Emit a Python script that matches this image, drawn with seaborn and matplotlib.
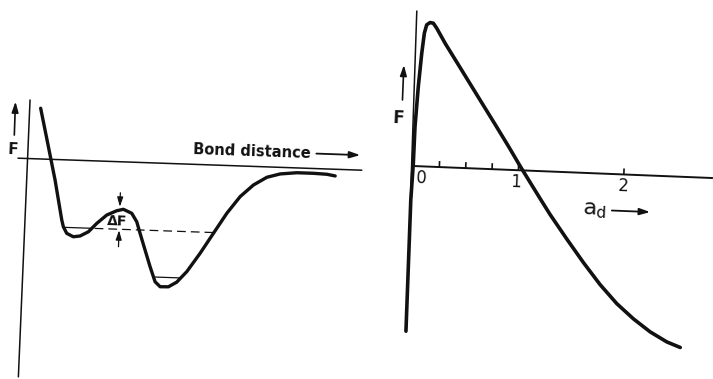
import matplotlib
matplotlib.use("Agg")
import matplotlib.pyplot as plt
from matplotlib.transforms import Affine2D
import pandas as pd
import seaborn as sns

# ---------------- left panel: free energy along the bond distance ----------------
bond_r = [0.119, 0.194, 0.288, 0.369, 0.387, 0.423, 0.490, 0.557, 0.639, 0.720,
          0.817, 0.915, 0.981, 1.066, 1.119, 1.156, 1.212, 1.268, 1.323, 1.375,
          1.458, 1.540, 1.637, 1.763, 1.889, 2.016, 2.143, 2.272, 2.404, 2.535,
          2.702, 2.868, 3.003, 3.086]
bond_F = [0.507, 0.192, -0.205, -0.603, -0.669, -0.734, -0.766, -0.756, -0.711, -0.624,
          -0.537, -0.491, -0.474, -0.511, -0.594, -0.708, -0.874, -1.039, -1.187, -1.235,
          -1.233, -1.183, -1.074, -0.887, -0.683, -0.478, -0.307, -0.186, -0.104, -0.066,
          -0.048, -0.048, -0.053, -0.067]

well1_level = -0.675
well1_solid = [0.39, 0.67]
well1_dashed = [0.70, 1.91]
well2_level = -1.14
well2_solid = [1.31, 1.58]

barrier_r = 0.945
barrier_top_arrow = [-0.31, -0.45]      # tail, tip
barrier_bottom_arrow = [-0.85, -0.685]  # tail, tip

bond_haxis_r = [-0.09, 3.35]
bond_vaxis_r = [-0.01, 0.01]
bond_vaxis_F = [-2.185, 0.586]

# ---------------- right panel: F against a_d ----------------
ad_x = [-0.004, -0.008, 0.002, 0.004, 0.020, 0.040, 0.057, 0.076, 0.107, 0.138,
        0.172, 0.257, 0.425, 0.593, 0.761, 0.896, 1.014, 1.115, 1.216, 1.317,
        1.485, 1.651, 1.817, 1.983, 2.146, 2.309, 2.471, 2.600]
ad_F = [-1.653, -0.341, 0.027, 0.394, 0.795, 1.130, 1.332, 1.416, 1.440, 1.435,
        1.387, 1.240, 0.977, 0.713, 0.450, 0.236, 0.043, -0.116, -0.274, -0.430,
        -0.669, -0.897, -1.110, -1.294, -1.439, -1.562, -1.656, -1.706]

ad_ticks = [0.25, 0.5, 0.75, 1.0, 2.0]
ad_tick_labels = ["0", "1", "2"]
ad_tick_label_x = [0.085, 0.98, 2.0]
ad_haxis_x = [0.0, 2.84]
ad_vaxis_x = [-0.003, -0.023]
ad_vaxis_F = [-1.66, 1.55]

# ---------------- figure ----------------
W, H, DPI = 713, 379, 100
sns.set_style("white")
plt.rcParams["font.family"] = ["DejaVu Sans"]
plt.rcParams["mathtext.fontset"] = "dejavusans"

fig = plt.figure(figsize=(W / DPI, H / DPI), dpi=DPI)
fig.patch.set_facecolor("white")
INK = "#111111"


def make_panel(origin, sx, sy, tilt):
    """Full-figure axes whose data origin sits at pixel `origin`, drawn with a slight tilt."""
    ox, oy = origin
    ax = fig.add_axes([0, 0, 1, 1])
    ax.set_autoscale_on(False)
    lims = ((-ox / sx, (W - ox) / sx), (-(H - oy) / sy, oy / sy))
    ax.set_xlim(*lims[0])
    ax.set_ylim(*lims[1])
    ax.axis("off")
    ax.patch.set_alpha(0)
    tr = ax.transData + Affine2D().rotate_deg_around(ox, H - oy, -tilt)
    return ax, tr, lims


def arrow(ax, tr, x0, y0, x1, y1, lw=1.1, scale=9):
    ax.annotate("", xy=(x1, y1), xytext=(x0, y0), xycoords=tr, textcoords=tr,
                arrowprops=dict(arrowstyle="-|>,head_length=0.7,head_width=0.22",
                                lw=lw, color=INK, shrinkA=0, shrinkB=0,
                                mutation_scale=scale))


# ----- left panel -----
TILT_L = 2.0
axL, trL, limsL = make_panel((27, 158.5), 100, 100, TILT_L)

axL.plot(bond_haxis_r, [0, 0], color=INK, lw=1.1, transform=trL)
axL.plot(bond_vaxis_r, bond_vaxis_F, color=INK, lw=1.1, transform=trL)

left_df = pd.DataFrame({"r": bond_r, "F": bond_F})
sns.lineplot(data=left_df, x="r", y="F", sort=False, estimator=None, ax=axL,
             color=INK, lw=2.4, transform=trL, solid_capstyle="round",
             solid_joinstyle="round")

axL.plot(well1_solid, [well1_level] * 2, color=INK, lw=0.9, transform=trL)
axL.plot(well1_dashed, [well1_level] * 2, color=INK, lw=0.9,
         dashes=(7, 4), transform=trL)
axL.plot(well2_solid, [well2_level] * 2, color=INK, lw=0.9, transform=trL)

arrow(axL, trL, barrier_r, barrier_top_arrow[0], barrier_r, barrier_top_arrow[1], lw=0.9, scale=8)
arrow(axL, trL, barrier_r, barrier_bottom_arrow[0], barrier_r, barrier_bottom_arrow[1], lw=0.9, scale=8)
axL.text(0.925, -0.60, "\u0394F", transform=trL, fontsize=10, fontweight="bold",
         ha="center", va="center", color=INK, rotation=-TILT_L, rotation_mode="anchor")

axL.text(-0.143, 0.085, "F", transform=trL, fontsize=11, fontweight="bold",
         ha="center", va="center", color=INK, rotation=-TILT_L, rotation_mode="anchor")
arrow(axL, trL, -0.135, 0.23, -0.135, 0.565, lw=1.2, scale=9)

axL.text(2.248, 0.144, "Bond distance", transform=trL, fontsize=10.5, fontweight="bold",
         ha="center", va="center", color=INK, rotation=-TILT_L, rotation_mode="anchor")
arrow(axL, trL, 2.89, 0.15, 3.33, 0.15, lw=1.3, scale=9)

axL.set_xlim(*limsL[0])
axL.set_ylim(*limsL[1])

# ----- right panel -----
TILT_R = 2.3
axR, trR, limsR = make_panel((413, 166), 105.5, 100, TILT_R)

axR.plot(ad_haxis_x, [0, 0], color=INK, lw=1.4, transform=trR)
axR.plot(ad_vaxis_x, ad_vaxis_F, color=INK, lw=1.1, transform=trR)
axR.vlines(ad_ticks, 0, 0.06, colors=INK, lw=1.2, transform=trR)

right_df = pd.DataFrame({"a_d": ad_x, "F": ad_F})
sns.lineplot(data=right_df, x="a_d", y="F", sort=False, estimator=None, ax=axR,
             color=INK, lw=2.6, transform=trR, solid_capstyle="round",
             solid_joinstyle="round")

for lx, lab in zip(ad_tick_label_x, ad_tick_labels):
    axR.text(lx, -0.12, lab, transform=trR, fontsize=12, ha="center", va="center",
             color=INK, rotation=-TILT_R, rotation_mode="anchor")

axR.text(1.733, -0.37, r"$\mathsf{a}_{\mathsf{d}}$", transform=trR, fontsize=16,
         ha="center", va="center", color=INK, rotation=-TILT_R, rotation_mode="anchor")
arrow(axR, trR, 1.90, -0.365, 2.264, -0.365, lw=1.3, scale=9)

axR.text(-0.157, 0.471, "F", transform=trR, fontsize=12, fontweight="bold",
         ha="center", va="center", color=INK, rotation=-TILT_R, rotation_mode="anchor")
arrow(axR, trR, -0.125, 0.656, -0.125, 1.006, lw=1.2, scale=9)

axR.set_xlim(*limsR[0])
axR.set_ylim(*limsR[1])

fig.savefig("out.png", dpi=DPI, facecolor="white")
